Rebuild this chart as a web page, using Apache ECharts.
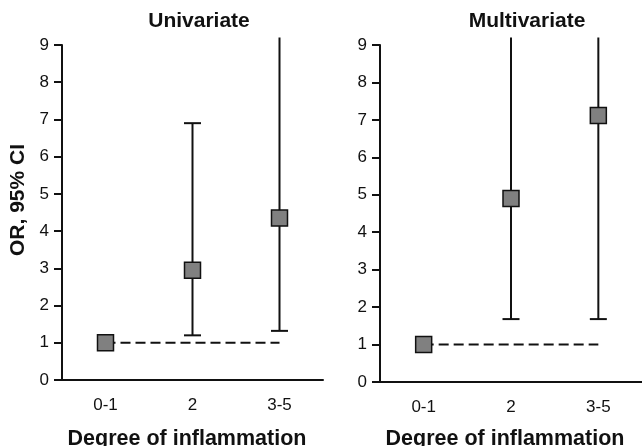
<!DOCTYPE html>
<html><head><meta charset="utf-8">
<script src="https://cdn.jsdelivr.net/npm/echarts@6/dist/echarts.min.js"></script>
<style>html,body{margin:0;padding:0;background:#fff}#c{width:642px;height:446px}</style>
</head><body><div id="c"></div>
<script>
var categories = ['0-1', '2', '3-5'];
var yTicks = [0,1,2,3,4,5,6,7,8,9];
var uniOR = [1, 2.95, 4.35];
var uniLow = [1, 1.2, 1.32];
var uniHigh = [1, 6.9, 9.2];
var multiOR = [1, 4.9, 7.12];
var multiLow = [1, 1.68, 1.68];
var multiHigh = [1, 9.2, 9.2];
var refLine = [1, 1, 1];
var panelTitles = ['Univariate', 'Multivariate'];
var yName = 'OR, 95% CI';
var xName = 'Degree of inflammation';
var yMax = 9;

var FONT = '"Liberation Sans", Arial, sans-serif';
var chart = echarts.init(document.getElementById('c'), null, {renderer:'canvas'});

function errSeries(idx, low, high) {
  var data = categories.map(function(c, i){ return [i, low[i], high[i]]; }).filter(function(d, i){ return i > 0; });
  return {
    type: 'custom', xAxisIndex: idx, yAxisIndex: idx, clip: false, z: 2,
    data: data,
    renderItem: function(params, api) {
      var x = api.value(0);
      var lo = api.coord([x, api.value(1)]);
      var hi = api.coord([x, api.value(2)]);
      var children = [
        {type:'line', shape:{x1:lo[0], y1:lo[1], x2:hi[0], y2:hi[1]}, style:{stroke:'#111', lineWidth:2}},
        {type:'line', shape:{x1:lo[0]-8.5, y1:lo[1], x2:lo[0]+8.5, y2:lo[1]}, style:{stroke:'#111', lineWidth:2}}
      ];
      if (api.value(2) <= yMax) {
        children.push({type:'line', shape:{x1:hi[0]-8.5, y1:hi[1], x2:hi[0]+8.5, y2:hi[1]}, style:{stroke:'#111', lineWidth:2}});
      }
      return {type:'group', children: children};
    }
  };
}

function axes(idx) {
  return {
    x: {
      type:'category', gridIndex: idx, data: categories, boundaryGap: true,
      axisLine:{lineStyle:{color:'#111', width:2}},
      axisTick:{alignWithLabel:true, length:7, lineStyle:{color:'#111', width:2}, interval:0},
      axisLabel:{color:'#111', fontSize:17, fontFamily:FONT, margin:17}
    },
    y: {
      type:'value', gridIndex: idx, min:0, max:yMax, interval:1,
      axisLine:{show:true, lineStyle:{color:'#111', width:2}},
      axisTick:{show:true, length:8, lineStyle:{color:'#111', width:2}},
      axisLabel:{color:'#111', fontSize:17, fontFamily:FONT, margin:13},
      splitLine:{show:false}
    }
  };
}
var a0 = axes(0), a1 = axes(1);
var titleStyle = {fontSize:21, fontWeight:'bold', color:'#111', fontFamily:FONT};
var nameStyle = {fontSize:21.5, fontWeight:'bold', color:'#111', fontFamily:FONT};

chart.setOption({
  animation:false,
  title: [
    {text: panelTitles[0], left: 194, top: 6, textAlign:'center', textStyle:titleStyle},
    {text: panelTitles[1], left: 522, top: 6, textAlign:'center', textStyle:titleStyle},
    {text: xName, left: 182, top: 423, textAlign:'center', textStyle:nameStyle},
    {text: xName, left: 500, top: 423, textAlign:'center', textStyle:nameStyle}
  ],
  graphic: [
    {type:'text', x:18, y:200, rotation: Math.PI/2,
     style:{text: yName, fill:'#111', font:'bold 21px "Liberation Sans", Arial, sans-serif', textAlign:'center', textVerticalAlign:'middle'}}
  ],
  grid: [
    {left:62, top:45, width:261, height:335},
    {left:380, top:45, width:266, height:337}
  ],
  xAxis: [a0.x, a1.x],
  yAxis: [a0.y, a1.y],
  series: [
    {type:'line', xAxisIndex:0, yAxisIndex:0, data: refLine, symbol:'none', z:1,
     lineStyle:{color:'#111', width:2, type:[10,5]}},
    {type:'line', xAxisIndex:1, yAxisIndex:1, data: refLine, symbol:'none', z:1,
     lineStyle:{color:'#111', width:2, type:[10,5]}},
    errSeries(0, uniLow, uniHigh),
    errSeries(1, multiLow, multiHigh),
    {type:'scatter', xAxisIndex:0, yAxisIndex:0, data: uniOR, symbol:'rect', symbolSize:16, z:5,
     itemStyle:{color:'#808080', borderColor:'#111', borderWidth:1.5, opacity:1}},
    {type:'scatter', xAxisIndex:1, yAxisIndex:1, data: multiOR, symbol:'rect', symbolSize:16, z:5,
     itemStyle:{color:'#808080', borderColor:'#111', borderWidth:1.5, opacity:1}}
  ]
});
</script></body></html>
